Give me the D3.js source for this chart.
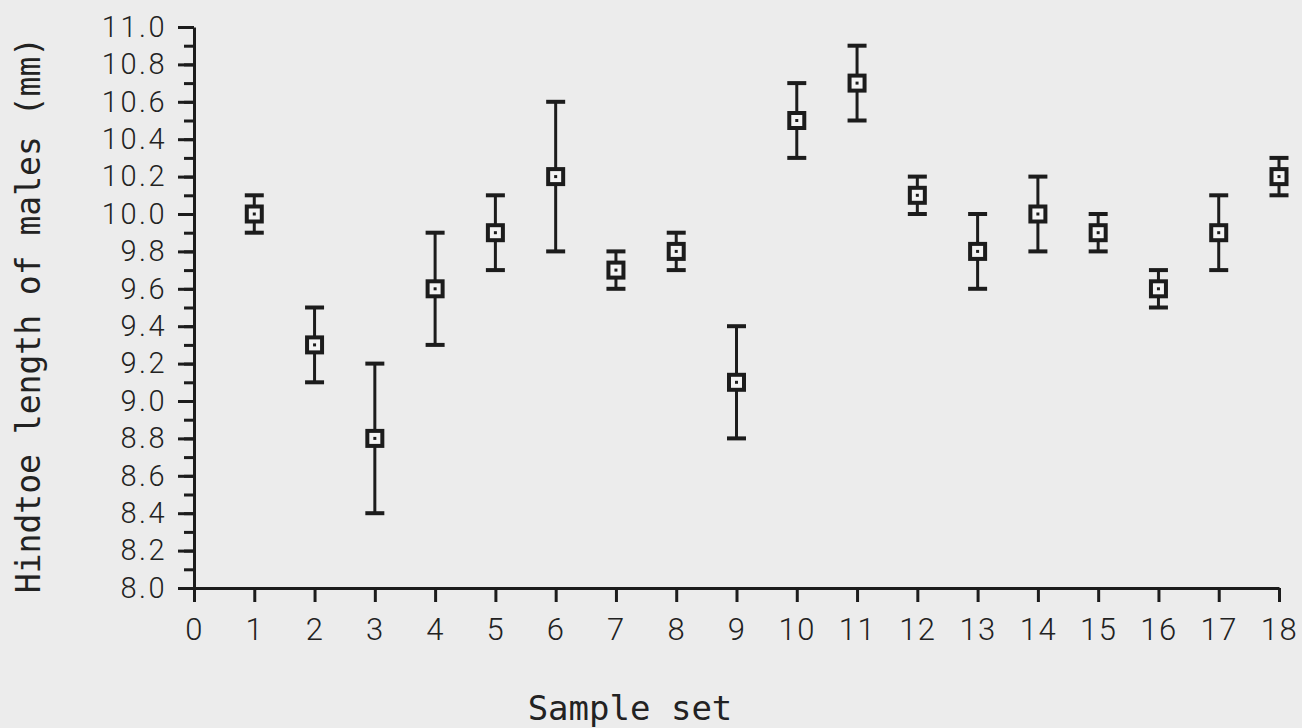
<!DOCTYPE html>
<html>
<head>
<meta charset="utf-8">
<script src="https://cdn.jsdelivr.net/npm/d3@7"></script>
<style>
  body { margin: 0; background: #ececec; }
  svg { display: block; }
  .tick text { font-family: "Roboto", "DejaVu Sans", sans-serif; font-weight: 300; fill: #222; }
</style>
</head>
<body>
<div id="chart"></div>
<script>
// data: sample sets, means and error bar ends
var sampleSets = [1, 2, 3, 4, 5, 6, 7, 8, 9, 10, 11, 12, 13, 14, 15, 16, 17, 18];
var means = [10.0, 9.3, 8.8, 9.6, 9.9, 10.2, 9.7, 9.8, 9.1, 10.5, 10.7, 10.1, 9.8, 10.0, 9.9, 9.6, 9.9, 10.2];
var upper = [10.1, 9.5, 9.2, 9.9, 10.1, 10.6, 9.8, 9.9, 9.4, 10.7, 10.9, 10.2, 10.0, 10.2, 10.0, 9.7, 10.1, 10.3];
var lower = [9.9, 9.1, 8.4, 9.3, 9.7, 9.8, 9.6, 9.7, 8.8, 10.3, 10.5, 10.0, 9.6, 9.8, 9.8, 9.5, 9.7, 10.1];
var xTicks = d3.range(0, 19);
var yMajor = d3.range(0, 16).map(function (i) { return +(8 + i * 0.2).toFixed(1); });
var yMinor = d3.range(0, 31).map(function (i) { return +(8 + i * 0.1).toFixed(1); });

var width = 1302,
  height = 728;
var ink = "#1c1c1c";

var svg = d3.select("#chart").append("svg")
  .attr("width", width)
  .attr("height", height);

var x = d3.scaleLinear().domain([0, 18]).range([194, 1279]);
var y = d3.scaleLinear().domain([8, 11]).range([588, 27]);

// minor ticks on y
svg.append("g")
  .attr("transform", "translate(194,0)")
  .call(d3.axisLeft(y).tickValues(yMinor).tickSize(10).tickSizeOuter(0).tickFormat(""))
  .call(function (g) { g.select(".domain").remove(); })
  .selectAll("line").attr("stroke", ink).attr("stroke-width", 3);

// major ticks + labels on y
var yAxis = svg.append("g")
  .attr("transform", "translate(194,0)")
  .call(d3.axisLeft(y).tickValues(yMajor).tickSize(16).tickSizeOuter(0).tickPadding(11).tickFormat(d3.format(".1f")));
yAxis.select(".domain").attr("stroke", ink).attr("stroke-width", 3);
yAxis.selectAll("line").attr("stroke", ink).attr("stroke-width", 3);
yAxis.selectAll("text").attr("font-size", 29).attr("letter-spacing", 2.5);

// x axis
var xAxis = svg.append("g")
  .attr("transform", "translate(0,588)")
  .call(d3.axisBottom(x).tickValues(xTicks).tickSize(14).tickSizeOuter(0).tickPadding(16).tickFormat(d3.format("d")));
xAxis.select(".domain").attr("stroke", ink).attr("stroke-width", 3);
xAxis.selectAll("line").attr("stroke", ink).attr("stroke-width", 3);
xAxis.selectAll("text").attr("font-size", 31).attr("letter-spacing", 1.5);

// axis titles
svg.append("text")
  .attr("x", 630)
  .attr("y", 720)
  .attr("text-anchor", "middle")
  .attr("font-family", "DejaVu Sans Mono, monospace")
  .attr("font-size", 34)
  .attr("fill", "#222")
  .text("Sample set");

svg.append("text")
  .attr("transform", "translate(40,315) rotate(-90)")
  .attr("text-anchor", "middle")
  .attr("font-family", "DejaVu Sans Mono, monospace")
  .attr("font-size", 33)
  .attr("fill", "#222")
  .text("Hindtoe length of males (mm)");

var points = sampleSets.map(function (s, i) {
  return { set: s, mean: means[i], hi: upper[i], lo: lower[i] };
});

var marks = svg.append("g")
  .selectAll("g")
  .data(points)
  .enter()
  .append("g");

// error bars
marks.append("line")
  .attr("x1", function (d) { return x(d.set); })
  .attr("x2", function (d) { return x(d.set); })
  .attr("y1", function (d) { return y(d.hi); })
  .attr("y2", function (d) { return y(d.lo); })
  .attr("stroke", ink)
  .attr("stroke-width", 3);

marks.selectAll(".cap")
  .data(function (d) { return [{ set: d.set, v: d.hi }, { set: d.set, v: d.lo }]; })
  .enter()
  .append("line")
  .attr("class", "cap")
  .attr("x1", function (d) { return x(d.set) - 9.5; })
  .attr("x2", function (d) { return x(d.set) + 9.5; })
  .attr("y1", function (d) { return y(d.v); })
  .attr("y2", function (d) { return y(d.v); })
  .attr("stroke", ink)
  .attr("stroke-width", 4);

// square markers with centre dot
marks.append("rect")
  .attr("x", function (d) { return x(d.set) - 7.5; })
  .attr("y", function (d) { return y(d.mean) - 7.5; })
  .attr("width", 15)
  .attr("height", 15)
  .attr("fill", "#f4f4f4")
  .attr("stroke", ink)
  .attr("stroke-width", 4);

marks.append("rect")
  .attr("x", function (d) { return x(d.set) - 1.5; })
  .attr("y", function (d) { return y(d.mean) - 1.5; })
  .attr("width", 3)
  .attr("height", 3)
  .attr("fill", ink);
</script>
</body>
</html>
